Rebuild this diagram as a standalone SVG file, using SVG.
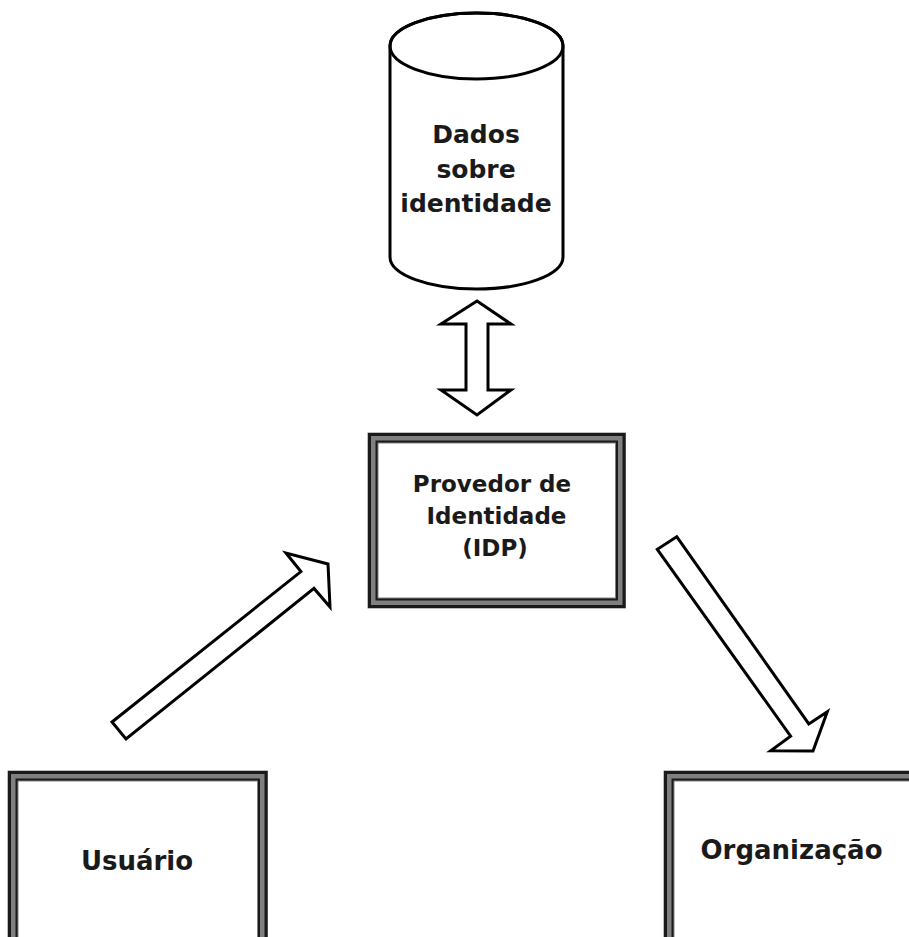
<svg xmlns="http://www.w3.org/2000/svg" width="909" height="937" viewBox="0 0 909 937">
  <style>
    .lbl { font-family: "DejaVu Sans", "Liberation Sans", sans-serif; font-weight: bold; fill: #1a1a1a; text-anchor: middle; }
    .band { fill: none; stroke: #808080; stroke-width: 11; }
    .edge-o { fill: none; stroke: #1a1a1a; stroke-width: 3; }
    .edge-i { fill: none; stroke: #1a1a1a; stroke-width: 2; }
    .shape { fill: #ffffff; stroke: #000000; stroke-width: 3; stroke-linejoin: miter; }
  </style>
  <rect width="909" height="937" fill="#ffffff"/>

  <!-- Database cylinder -->
  <g id="dados">
    <path class="shape" d="M390,46 L390,257 A86.5,32 0 0 0 563,257 L563,46 A86.5,33 0 0 0 390,46 Z"/>
    <ellipse cx="476.5" cy="46" rx="86.5" ry="33" fill="none" stroke="#000" stroke-width="3"/>
    <text class="lbl" font-size="25" x="476" y="143">Dados</text>
    <text class="lbl" font-size="25" x="476" y="178">sobre</text>
    <text class="lbl" font-size="25" x="476" y="212">identidade</text>
  </g>

  <!-- Identity provider -->
  <g id="idp">
    <rect x="373" y="438" width="247.5" height="165" fill="#ffffff"/>
    <rect class="band" x="373" y="438" width="247.5" height="165"/>
    <rect class="edge-o" x="369.5" y="434.5" width="254.5" height="172"/>
    <rect class="edge-i" x="376.5" y="441.5" width="240.5" height="158"/>
    <text class="lbl" font-size="23" x="492" y="492">Provedor de</text>
    <text class="lbl" font-size="23" x="496.5" y="524">Identidade</text>
    <text class="lbl" font-size="23" x="495" y="556">(IDP)</text>
  </g>

  <!-- User -->
  <g id="usuario">
    <rect x="13" y="776" width="249.5" height="200" fill="#ffffff"/>
    <rect class="band" x="13" y="776" width="249.5" height="200"/>
    <rect class="edge-o" x="9.5" y="772.5" width="256.5" height="207"/>
    <rect class="edge-i" x="16.5" y="779.5" width="242.5" height="193"/>
    <text class="lbl" font-size="26" x="137" y="870">Usuário</text>
  </g>

  <!-- Organization -->
  <g id="organizacao">
    <rect x="669" y="776" width="260" height="200" fill="#ffffff"/>
    <rect class="band" x="669" y="776" width="260" height="200"/>
    <rect class="edge-o" x="665.5" y="772.5" width="267" height="207"/>
    <rect class="edge-i" x="672.5" y="779.5" width="253" height="193"/>
    <text class="lbl" font-size="26" x="791.5" y="859">Organização</text>
  </g>

  <!-- Block arrows -->
  <g id="connectors">
    <polygon class="shape" points="477,301 511,324 488,324 488,390 511,390 477,415 441,390 466,390 466,324 441,324"/>
    <polygon class="shape" points="112,722 300.9,571.6 286,553 328,564 330,607 314,588.4 126,739"/>
    <polygon class="shape" points="676.7,536.7 808.8,723.9 827.3,711.7 813,751 770.7,750.7 790.6,736.1 657.3,549.3"/>
  </g>
</svg>
